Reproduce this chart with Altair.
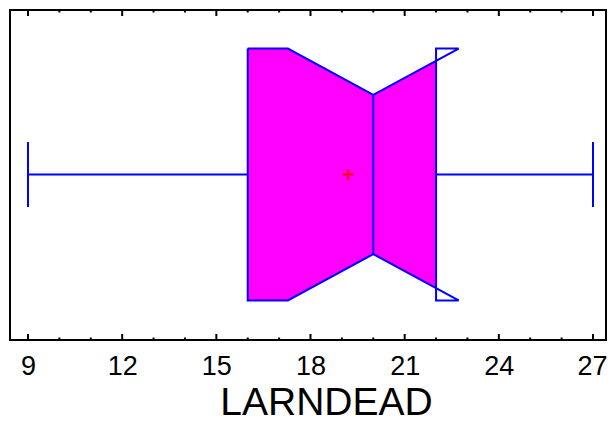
import altair as alt
import pandas as pd

# ---- data ----
variable = "LARNDEAD"
minimum = 9.0
q1 = 16.0
median = 20.0
q3 = 22.0
maximum = 27.0
mean = 19.2
notch_low = 17.28
notch_high = 22.72
major_ticks = [9, 12, 15, 18, 21, 24, 27]
minor_ticks = [10, 11, 13, 14, 16, 17, 19, 20, 22, 23, 25, 26]

# ---- layout (style) constants ----
W, H = 596, 330
XDOM = [8.4266, 27.414]
CENTER = 0.5015
HALF_BOX = 0.3815
HALF_NOTCH = 0.241
HALF_CAP = 0.0985
BLUE = "#0000FF"
MAGENTA = "#FF00FF"

top, bot = CENTER + HALF_BOX, CENTER - HALF_BOX
nt, nb = CENTER + HALF_NOTCH, CENTER - HALF_NOTCH
frac = (q3 - median) / (notch_high - median)
y22t = nt + (top - nt) * frac
y22b = nb + (bot - nb) * frac

xs = alt.Scale(domain=XDOM, nice=False, zero=False)
ys = alt.Scale(domain=[0, 1], nice=False, zero=False)

fill_df = pd.DataFrame({
    "x": [q1, notch_low, median, q3],
    "y": [top, top, nt, y22t],
    "y2": [bot, bot, nb, y22b],
})
outline_df = pd.DataFrame({
    "x": [q1, notch_low, median, notch_high, q3, q3, notch_high, median, notch_low, q1, q1],
    "y": [top, top, nt, top, top, bot, bot, nb, bot, bot, top],
})
outline_df["o"] = range(len(outline_df))

last = major_ticks[-1]
xaxis = alt.Axis(
    values=major_ticks, ticks=False, domain=False, grid=False,
    labelFont="Liberation Sans", labelFontSize=27, labelColor="black",
    labelBaseline="alphabetic", labelPadding=34, labelFlush=False,
    labelAlign={"condition": {"test": f"datum.value >= {last}", "value": "right"}, "value": "center"},
    labelOffset={"condition": {"test": f"datum.value >= {last}", "value": 14}, "value": 0},
    title=variable, titleFont="Liberation Sans", titleFontSize=39,
    titleFontWeight="normal", titleColor="black",
    titleBaseline="alphabetic", titleY=74.5, titleX=316, titleAlign="center",
)
noy = alt.Axis(labels=False, ticks=False, domain=False, grid=False, title=None)

fill = alt.Chart(fill_df).mark_area(color=MAGENTA, opacity=1).encode(
    x=alt.X("x:Q", scale=xs, axis=xaxis),
    y=alt.Y("y:Q", scale=ys, axis=noy),
    y2="y2:Q",
)

outline = alt.Chart(outline_df).mark_line(color=BLUE, strokeWidth=2, strokeJoin="miter").encode(
    x=alt.X("x:Q", scale=xs),
    y=alt.Y("y:Q", scale=ys),
    order="o:Q",
)

seg_df = pd.DataFrame({
    "x": [median, minimum, q3, minimum, maximum],
    "x2": [median, q1, maximum, minimum, maximum],
    "y": [nt, CENTER, CENTER, CENTER - HALF_CAP, CENTER - HALF_CAP],
    "y2": [nb, CENTER, CENTER, CENTER + HALF_CAP, CENTER + HALF_CAP],
})
segs = alt.Chart(seg_df).mark_rule(color=BLUE, strokeWidth=2).encode(
    x=alt.X("x:Q", scale=xs), x2="x2:Q",
    y=alt.Y("y:Q", scale=ys), y2="y2:Q",
)

mean_pt = alt.Chart(pd.DataFrame({"x": [mean], "y": [CENTER]})).mark_point(
    shape="M-1,0H1M0,-1V1", size=121, filled=False, color="red", strokeWidth=2, opacity=1
).encode(x=alt.X("x:Q", scale=xs), y=alt.Y("y:Q", scale=ys))

maj_df = pd.DataFrame({"t": major_ticks})
min_df = pd.DataFrame({"t": minor_ticks})

def ticks(df, y, y2):
    return alt.Chart(df).mark_rule(color="black", strokeWidth=2).encode(
        x=alt.X("t:Q", scale=xs), y=alt.value(y), y2=alt.value(y2)
    )

tick_layers = [
    ticks(maj_df, H, H - 6), ticks(maj_df, 0, 6),
    ticks(min_df, H, H - 2.5), ticks(min_df, 0, 2.5),
]

chart = alt.layer(fill, outline, segs, mean_pt, *tick_layers).properties(
    width=W, height=H,
    autosize=alt.AutoSizeParams(type="none"),
    padding={"left": 2, "top": 2, "right": 1, "bottom": 83},
    background="white",
).configure_view(stroke="black", strokeWidth=2)

chart.save("out.html", embed_options={"renderer": "svg", "actions": False})
